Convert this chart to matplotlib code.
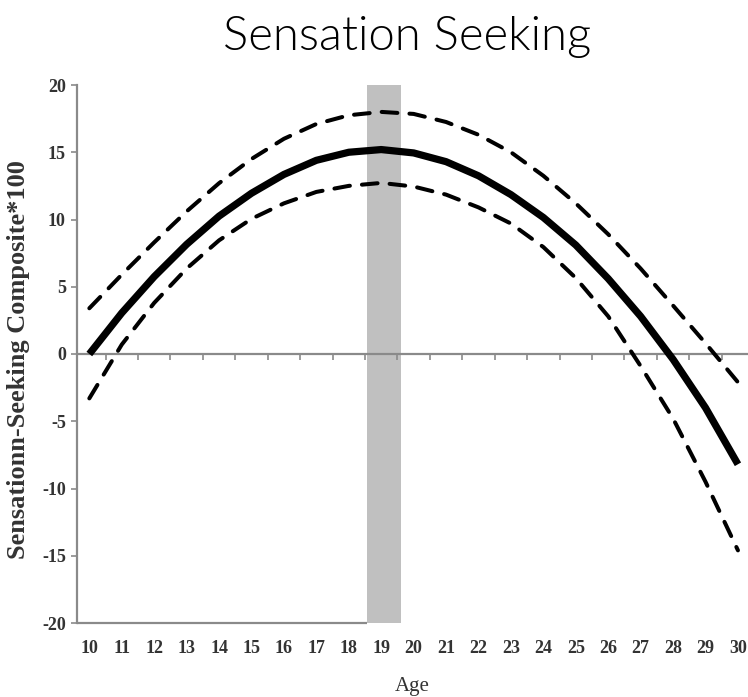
import matplotlib
matplotlib.use("Agg")
import matplotlib.pyplot as plt
import numpy as np

ages = list(range(10, 31))
estimate = [0.0, 3.05, 5.75, 8.15, 10.25, 11.95, 13.35, 14.4, 15.0, 15.2, 14.95,
            14.3, 13.25, 11.85, 10.15, 8.1, 5.6, 2.8, -0.4, -4.0, -8.2]
upper_ci = [3.4, 5.9, 8.3, 10.6, 12.7, 14.5, 16.0, 17.1, 17.75, 18.0, 17.85,
            17.25, 16.3, 15.0, 13.25, 11.2, 8.9, 6.35, 3.6, 0.8, -2.1]
lower_ci = [-3.3, 0.7, 3.8, 6.35, 8.45, 10.05, 11.2, 12.05, 12.5, 12.72, 12.45,
            11.85, 10.9, 9.7, 7.95, 5.65, 2.8, -0.9, -4.8, -9.5, -14.6]
peak_band = (18.55, 19.6)
yticks = [-20, -15, -10, -5, 0, 5, 10, 15, 20]
title = "Sensation Seeking"
ylabel = "Sensationn-Seeking Composite*100"
xlabel = "Age"

fig = plt.figure(figsize=(7.48, 6.97), dpi=100)
ax = fig.add_axes([77/748, 1 - 623/697, 1 - 77/748, (623 - 85)/697])
ax.set_xlim(9.62, 30.31)
ax.set_ylim(-20, 20)

grey = "#8a8a8a"
ax.axvspan(peak_band[0], peak_band[1], color="#c0c0c0", zorder=1, lw=0)

# zero line with half-year ticks
ax.axhline(0, color=grey, lw=1.6, zorder=2)
mids = [a + 0.5 for a in ages[:-1]]
ax.vlines(mids, -0.45, 0, color=grey, lw=1.2, zorder=2)

# bottom line only up to the band
ax.hlines(-20, 9.62, peak_band[0], color=grey, lw=1.6, zorder=2, clip_on=False)

ax.plot(ages, upper_ci, color="black", lw=2.9, dashes=(3.9, 3.0), zorder=3,
        dash_capstyle="round")
ax.plot(ages, lower_ci, color="black", lw=2.9, dashes=(3.9, 3.0), zorder=3,
        dash_capstyle="round")
ax.plot(ages, estimate, color="black", lw=5.2, zorder=4, solid_capstyle="butt")

for s in ["top", "right", "bottom"]:
    ax.spines[s].set_visible(False)
ax.spines["left"].set_color(grey)
ax.spines["left"].set_linewidth(1.6)

ax.set_yticks(yticks)
ax.set_yticklabels([str(t) for t in yticks])
ax.set_xticks(ages)
ax.set_xticklabels([str(a) for a in ages])
ax.tick_params(axis="y", direction="out", length=4, width=1.2, color=grey, pad=4)
ax.tick_params(axis="x", length=0, pad=12)
for lab in ax.get_xticklabels() + ax.get_yticklabels():
    lab.set_fontfamily("Liberation Serif")
    lab.set_fontweight("bold")
    lab.set_fontsize(13)
    lab.set_color("#333333")

ax.set_ylabel(ylabel, fontfamily="Liberation Serif", fontweight="bold",
              fontsize=19, color="#333333")
ax.yaxis.set_label_coords(-0.07, 0.49)
ax.set_xlabel(xlabel, fontfamily="Liberation Serif", fontsize=15, color="#333333")
ax.xaxis.set_label_coords(0.5, -0.1)

fig.text(407/748, 1 - 37/697, title, ha="center", va="center",
         fontfamily="Lato", fontweight=300, fontsize=34, color="black")

fig.savefig("out.png", dpi=100)
